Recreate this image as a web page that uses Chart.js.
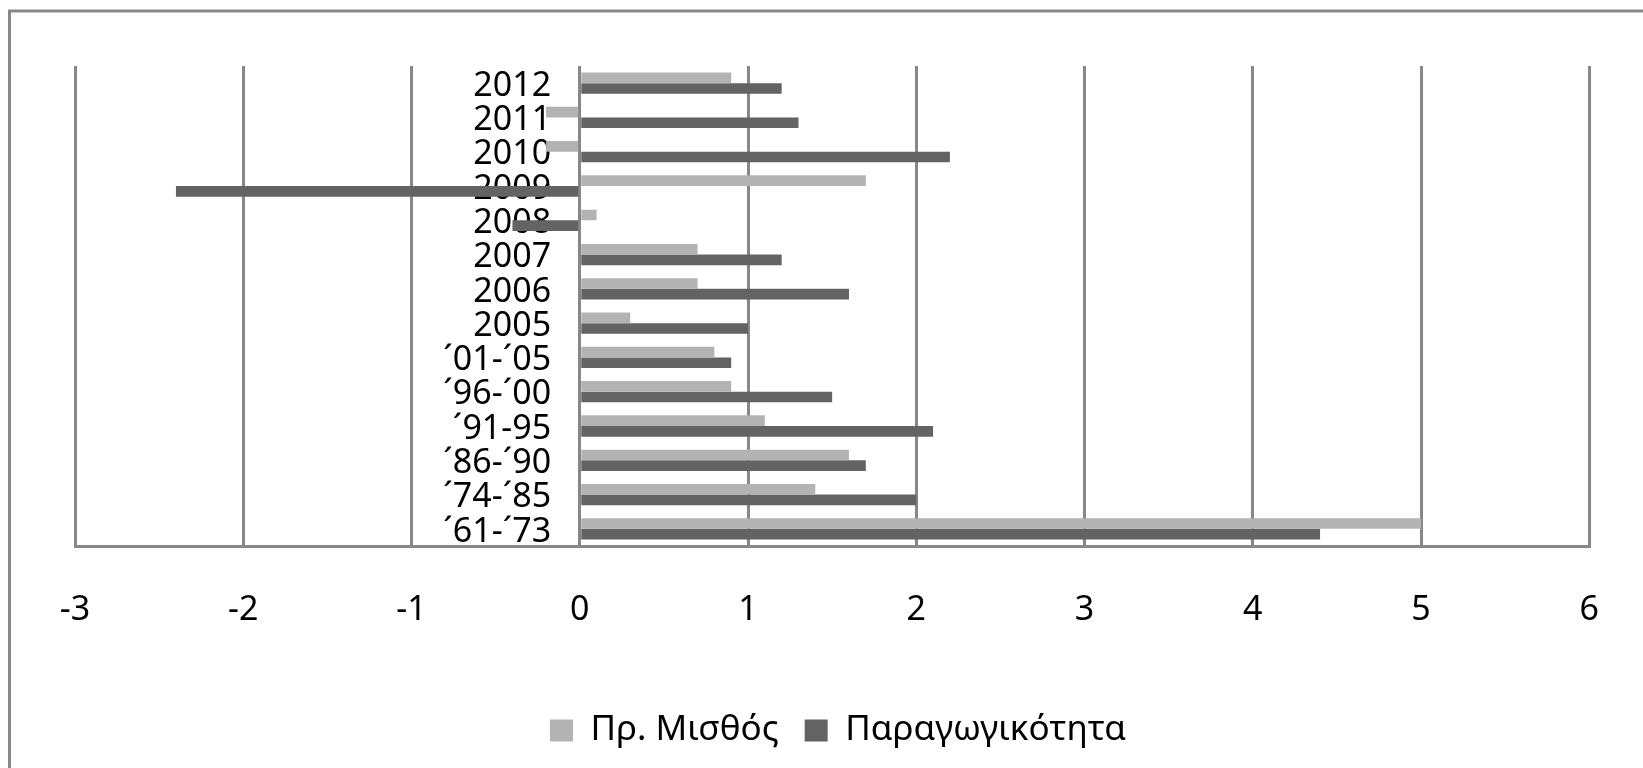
<!DOCTYPE html>
<html>
<head>
<meta charset="utf-8">
<script src="https://cdn.jsdelivr.net/npm/chart.js@4.4.1/dist/chart.umd.min.js"></script>
<style>
  html, body { margin: 0; padding: 0; background: #fff; }
  #wrap { width: 1643px; height: 768px; position: relative; }
</style>
</head>
<body>
<div id="wrap"><canvas id="chart" width="1643" height="768"></canvas></div>
<script>
// chronological order, drawn top-down reversed (2012 at top)
const categories = ["\u00B461-\u00B473", "\u00B474-\u00B485", "\u00B486-\u00B490", "\u00B491-95", "\u00B496-\u00B400", "\u00B401-\u00B405",
  "2005", "2006", "2007", "2008", "2009", "2010", "2011", "2012"];
const wageValues = [5.0, 1.4, 1.6, 1.1, 0.9, 0.8, 0.3, 0.7, 0.7, 0.1, 1.7, -0.2, -0.2, 0.9];
const productivityValues = [4.4, 2.0, 1.7, 2.1, 1.5, 0.9, 1.0, 1.6, 1.2, -0.4, -2.4, 2.2, 1.3, 1.2];
const seriesNames = ["\u03A0\u03C1. \u039C\u03B9\u03C3\u03B8\u03CC\u03C2", "\u03A0\u03B1\u03C1\u03B1\u03B3\u03C9\u03B3\u03B9\u03BA\u03CC\u03C4\u03B7\u03C4\u03B1"];
const xMin = -3, xMax = 6;

const FONT = "'Noto Sans', sans-serif";
const GRID = "#878787";

// frame: top and left edges only (the rest is cropped off in the original)
const framePlugin = {
  id: "frame",
  beforeDraw(chart) {
    const ctx = chart.ctx;
    ctx.save();
    ctx.strokeStyle = GRID;
    ctx.lineWidth = 3;
    ctx.beginPath();
    ctx.moveTo(9.5, 768);
    ctx.lineTo(9.5, 11);
    ctx.lineTo(1643, 11);
    ctx.stroke();
    ctx.restore();
  }
};

new Chart(document.getElementById("chart"), {
  type: "bar",
  data: {
    labels: categories,
    datasets: [
      { label: seriesNames[0], data: wageValues, backgroundColor: "#b3b3b3" },
      { label: seriesNames[1], data: productivityValues, backgroundColor: "#636363" }
    ]
  },
  options: {
    indexAxis: "y",
    responsive: false,
    animation: false,
    devicePixelRatio: 1,
    barPercentage: 1,
    categoryPercentage: 0.62,
    layout: { padding: { left: 75, right: 42, top: 66, bottom: 10 } },
    scales: {
      x: {
        min: xMin,
        max: xMax,
        ticks: { stepSize: 1, color: "#000", font: { family: FONT, size: 34 }, padding: 44 },
        grid: { color: GRID, lineWidth: 3, drawTicks: false },
        border: { display: true, color: GRID, width: 3 },
        afterFit(scale) { scale.height = 141; }
      },
      y: {
        // labels sit just left of the zero line, as in the original
        position: { x: -0.17 },
        reverse: true,
        ticks: { color: "#000", font: { family: FONT, size: 34 }, autoSkip: false, labelOffset: 3 },
        grid: { display: false, drawTicks: false },
        border: { display: false }
      }
    },
    plugins: {
      legend: {
        position: "bottom",
        labels: {
          color: "#000",
          font: { family: FONT, size: 35 },
          boxWidth: 23,
          boxHeight: 22,
          padding: 26
        }
      },
      tooltip: { enabled: false }
    }
  },
  plugins: [framePlugin]
});
</script>
</body>
</html>
